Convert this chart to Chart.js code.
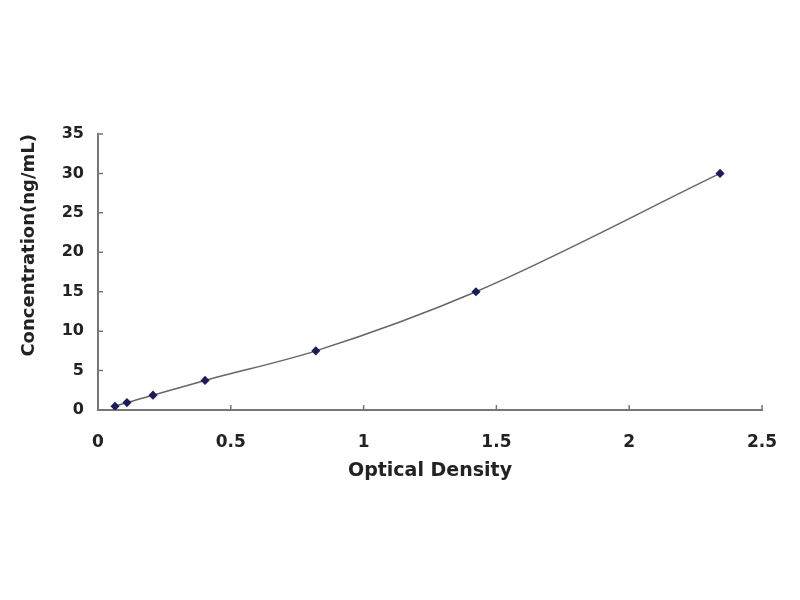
<!DOCTYPE html>
<html>
<head>
<meta charset="utf-8">
<script src="https://cdn.jsdelivr.net/npm/chart.js@4"></script>
<style>
body { margin: 0; background: #fff; }
</style>
</head>
<body>
<canvas id="curve" width="800" height="600"></canvas>
<script>
// standard curve readings
const opticalDensity = [0.064, 0.109, 0.207, 0.403, 0.82, 1.423, 2.342];
const concentration = [0.47, 0.94, 1.88, 3.75, 7.5, 15, 30];
const xTicks = [0, 0.5, 1, 1.5, 2, 2.5];
const yTicks = [0, 5, 10, 15, 20, 25, 30, 35];

const points = opticalDensity.map((x, i) => ({ x: x, y: concentration[i] }));

// little tick marks pointing into the plot, like the original
const innerTicks = {
  id: 'innerTicks',
  afterDraw(chart) {
    const ctx = chart.ctx;
    const xs = chart.scales.x, ys = chart.scales.y;
    ctx.save();
    ctx.strokeStyle = '#777';
    ctx.lineWidth = 1.5;
    ctx.beginPath();
    xTicks.forEach(v => {
      const px = xs.getPixelForValue(v);
      ctx.moveTo(px, ys.bottom);
      ctx.lineTo(px, ys.bottom - 5);
    });
    yTicks.forEach(v => {
      const py = ys.getPixelForValue(v);
      ctx.moveTo(xs.left, py);
      ctx.lineTo(xs.left + 5, py);
    });
    ctx.stroke();
    ctx.restore();
  }
};

const chart1 = document.getElementById('curve');

new Chart(chart1, {
  type: 'scatter',
  data: {
    datasets: [{
      data: points,
      showLine: true,
      borderColor: '#666',
      borderWidth: 1.5,
      cubicInterpolationMode: 'monotone',
      pointStyle: 'rectRot',
      pointRadius: 3.5,
      pointBackgroundColor: '#1c1c5a',
      pointBorderColor: '#1c1c5a'
    }]
  },
  plugins: [innerTicks],
  options: {
    responsive: false,
    animation: false,
    devicePixelRatio: 1,
    layout: { padding: { top: 134, right: 38, bottom: 118, left: 19 } },
    plugins: { legend: { display: false }, tooltip: { enabled: false } },
    scales: {
      x: {
        type: 'linear',
        min: 0,
        max: 2.5,
        afterBuildTicks: s => { s.ticks = xTicks.map(v => ({ value: v })); },
        afterFit: s => { s.height = 72; },
        grid: { drawOnChartArea: false, drawTicks: false },
        border: { display: true, color: '#777', width: 2 },
        ticks: {
          padding: 22,
          color: '#222',
          callback: v => String(v),
          font: { family: 'DejaVu Sans', size: 17, weight: 'bold' }
        },
        title: {
          display: true,
          text: 'Optical Density',
          color: '#222',
          padding: 0,
          font: { family: 'DejaVu Sans', size: 19, weight: 'bold' }
        }
      },
      y: {
        type: 'linear',
        min: 0,
        max: 35,
        afterBuildTicks: s => { s.ticks = yTicks.map(v => ({ value: v })); },
        afterFit: s => { s.width = 79; },
        grid: { drawOnChartArea: false, drawTicks: false },
        border: { display: true, color: '#777', width: 2 },
        ticks: {
          padding: 14,
          color: '#222',
          font: { family: 'DejaVu Sans', size: 16, weight: 'bold' }
        },
        title: {
          display: true,
          text: 'Concentration(ng/mL)',
          align: 'end',
          color: '#222',
          padding: 0,
          font: { family: 'DejaVu Sans', size: 18, weight: 'bold' }
        }
      }
    }
  }
});
</script>
</body>
</html>
